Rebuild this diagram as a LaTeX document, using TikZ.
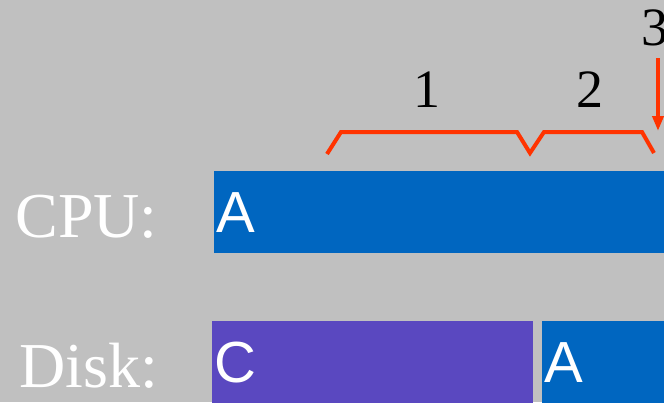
\documentclass[tikz,border=0pt]{standalone}
\usepackage{fontspec}
\setmainfont{Liberation Serif}
\newfontfamily\barfont{Liberation Sans}
\usetikzlibrary{arrows.meta}

\definecolor{bggray}{HTML}{C0C0C0}
\definecolor{jobblue}{HTML}{0066C0}
\definecolor{jobpurple}{HTML}{5A48C0}
\definecolor{markred}{HTML}{FF3300}

\tikzset{
  rowlabel/.style={text=white, anchor=base east, inner sep=0pt,
    font=\fontsize{64}{70}\selectfont},
  job/.style={anchor=north west, inner xsep=2pt, inner ysep=0pt,
    minimum height=82pt, text=white, align=left,
    font=\barfont\fontsize{58}{62}\selectfont},
  phase/.style={anchor=base, inner sep=0pt,
    font=\fontsize{54}{60}\selectfont},
  brace/.style={draw=markred, line width=4pt, line join=miter}
}

\begin{document}
\begin{tikzpicture}[x=1pt, y=-1pt]
      % background
      \fill[bggray] (0,0) rectangle (664,402);
      \useasboundingbox (0,0) rectangle (664,402);

      % row labels
      \node[rowlabel] (cpulabel) at (158,237) {CPU:};
      \node[rowlabel] (disklabel) at (158,387) {Disk:};

      % jobs
      \node[job, fill=jobblue, text width=446pt] (cpuA) at (214,171) {A};
      \node[job, fill=jobpurple, text width=317pt] (diskC) at (212,321) {C};
      \node[job, fill=jobblue, text width=118pt] (diskA) at (542,321) {A};

      % brackets
      \draw[brace] (327,154) -- (341,132) -- (517,132) -- (530,153)
        -- (544,132) -- (642,132) -- (654,153);
      \node[phase] (one) at (427,107) {1};
      \node[phase] (two) at (590,107) {2};

      % arrow 3
      \node[phase] (three) at (655,45) {3};
      \coordinate (arrowtop) at (658,58);
      \coordinate (arrowtip) at (658,131);
      \draw[markred, line width=4pt, -{Triangle[width=11pt,length=15pt]}]
        (arrowtop) -- (arrowtip);
\end{tikzpicture}
\end{document}
